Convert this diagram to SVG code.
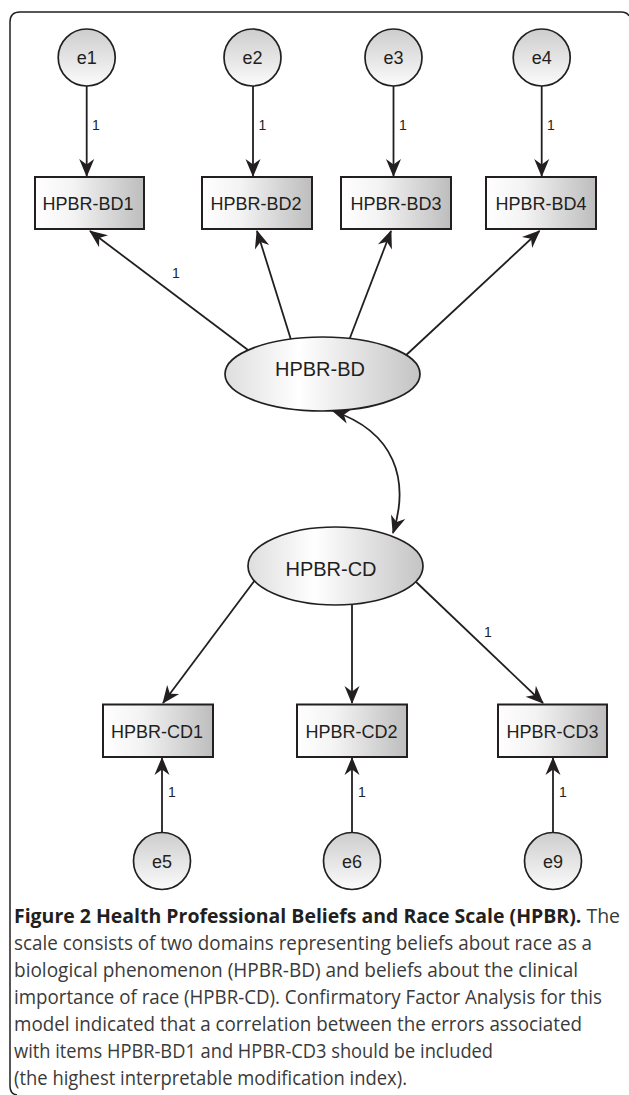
<svg xmlns="http://www.w3.org/2000/svg" width="629" height="1095" viewBox="0 0 629 1095">
<style>
.frame{fill:none;stroke:#231f20;stroke-width:1.5}
.box{fill:url(#gBox);stroke:#231f20;stroke-width:2}
.err{fill:url(#gCirc);stroke:#231f20;stroke-width:1.7}
.lat{fill:url(#gEll);stroke:#231f20;stroke-width:1.7}
.c{fill:none;stroke:#231f20;stroke-width:1.8;marker-end:url(#ah)}
.lbl{font-family:"Liberation Sans",Arial,sans-serif;fill:#231f20;text-anchor:middle}
.bt{font-size:18px}
.et{font-size:18px}
.lt{font-size:20px}
.one{font-family:"Liberation Sans",Arial,sans-serif;font-size:14px;fill:#231f20}
.cap{font-family:"Open Sans","Liberation Sans",sans-serif;font-size:19.5px;fill:#3a3a3a}
.b{font-weight:bold;fill:#231f20}
</style>
<defs>
<linearGradient id="gBox" x1="0" y1="0" x2="1" y2="0">
<stop offset="0" stop-color="#ffffff"/>
<stop offset="0.35" stop-color="#f3f3f3"/>
<stop offset="1" stop-color="#bdbdbd"/>
</linearGradient>
<linearGradient id="gCirc" x1="0" y1="0" x2="0" y2="1">
<stop offset="0" stop-color="#cdcdcd"/>
<stop offset="1" stop-color="#fbfbfb"/>
</linearGradient>
<linearGradient id="gEll" x1="0" y1="0" x2="1" y2="0">
<stop offset="0" stop-color="#dedede"/>
<stop offset="0.38" stop-color="#ffffff"/>
<stop offset="1" stop-color="#c4c4c4"/>
</linearGradient>
<marker id="ah" markerUnits="userSpaceOnUse" viewBox="-19 -9 21 18" refX="0" refY="0" markerWidth="21" markerHeight="18" orient="auto-start-reverse">
<path d="M1,0 L-17,-7.5 L-11.5,0 L-17,7.5 Z" fill="#231f20"/>
</marker>
</defs>

<path class="frame" d="M17,1095 Q10,1094 10,1086 L10,22 Q10,12 20,12 L621,12 Q627,12 629,16"/>

<g id="connectors">
<line class="c" x1="86.7" y1="86" x2="86.7" y2="176"/>
<line class="c" x1="253" y1="86" x2="253" y2="176"/>
<line class="c" x1="393.5" y1="86" x2="393.5" y2="176"/>
<line class="c" x1="541.7" y1="86" x2="541.7" y2="176"/>
<line class="c" x1="252" y1="353" x2="90" y2="231"/>
<line class="c" x1="292" y1="343" x2="257" y2="231"/>
<line class="c" x1="348" y1="343" x2="391" y2="231"/>
<line class="c" x1="403" y1="358" x2="539.5" y2="231"/>
<path class="c" style="marker-start:url(#ah)" d="M333,411 C395,432 410,480 393,533"/>
<line class="c" x1="255" y1="580" x2="163" y2="703"/>
<line class="c" x1="352" y1="604" x2="352" y2="703"/>
<line class="c" x1="414" y1="580" x2="543" y2="703"/>
<line class="c" x1="162" y1="832" x2="162" y2="758"/>
<line class="c" x1="352" y1="832" x2="352" y2="758"/>
<line class="c" x1="553" y1="832" x2="553" y2="758"/>
<text class="one" x="92" y="130">1</text>
<text class="one" x="258.5" y="130">1</text>
<text class="one" x="399" y="130">1</text>
<text class="one" x="547" y="130">1</text>
<text class="one" x="172" y="278">1</text>
<text class="one" x="484" y="637">1</text>
<text class="one" x="168" y="797">1</text>
<text class="one" x="358" y="797">1</text>
<text class="one" x="559" y="797">1</text>
</g>

<g id="e1"><circle class="err" cx="86.7" cy="57.5" r="28.5"/><text class="lbl et" x="86.7" y="64">e1</text></g>
<g id="e2"><circle class="err" cx="252.5" cy="57.5" r="28.5"/><text class="lbl et" x="252.5" y="64">e2</text></g>
<g id="e3"><circle class="err" cx="393.5" cy="57.5" r="28.5"/><text class="lbl et" x="393.5" y="64">e3</text></g>
<g id="e4"><circle class="err" cx="541.7" cy="57.5" r="28.5"/><text class="lbl et" x="541.7" y="64">e4</text></g>

<g id="BD1"><rect class="box" x="35" y="177" width="109" height="52"/><text class="lbl bt" x="88" y="209.5">HPBR-BD1</text></g>
<g id="BD2"><rect class="box" x="202" y="177" width="110" height="52"/><text class="lbl bt" x="256" y="209.5">HPBR-BD2</text></g>
<g id="BD3"><rect class="box" x="341" y="177" width="110" height="52"/><text class="lbl bt" x="396" y="209.5">HPBR-BD3</text></g>
<g id="BD4"><rect class="box" x="486" y="177" width="110" height="52"/><text class="lbl bt" x="541" y="209.5">HPBR-BD4</text></g>

<g id="HPBR-BD"><ellipse class="lat" cx="322.5" cy="374" rx="97.5" ry="37"/><text class="lbl lt" x="320" y="376">HPBR-BD</text></g>
<g id="HPBR-CD"><ellipse class="lat" cx="335.5" cy="566" rx="87.5" ry="39"/><text class="lbl lt" x="331" y="576">HPBR-CD</text></g>

<g id="CD1"><rect class="box" x="103" y="704.5" width="110" height="52.5"/><text class="lbl bt" x="157" y="737.5">HPBR-CD1</text></g>
<g id="CD2"><rect class="box" x="297" y="704.5" width="110" height="52.5"/><text class="lbl bt" x="351.5" y="737.5">HPBR-CD2</text></g>
<g id="CD3"><rect class="box" x="498" y="704.5" width="109" height="52.5"/><text class="lbl bt" x="552.5" y="737.5">HPBR-CD3</text></g>

<g id="e5"><circle class="err" cx="162" cy="861" r="28.5"/><text class="lbl et" x="162" y="867.5">e5</text></g>
<g id="e6"><circle class="err" cx="352" cy="861" r="28.5"/><text class="lbl et" x="352" y="867.5">e6</text></g>
<g id="e9"><circle class="err" cx="553" cy="861" r="28.5"/><text class="lbl et" x="553" y="867.5">e9</text></g>

<g id="caption">
<text class="cap" x="14" y="923" textLength="606" lengthAdjust="spacingAndGlyphs"><tspan class="b">Figure 2 Health Professional Beliefs and Race Scale (HPBR).</tspan> The</text>
<text class="cap" x="14" y="950" textLength="578" lengthAdjust="spacingAndGlyphs">scale consists of two domains representing beliefs about race as a</text>
<text class="cap" x="14" y="977" textLength="564" lengthAdjust="spacingAndGlyphs">biological phenomenon (HPBR-BD) and beliefs about the clinical</text>
<text class="cap" x="14" y="1004" textLength="588" lengthAdjust="spacingAndGlyphs">importance of race (HPBR-CD). Confirmatory Factor Analysis for this</text>
<text class="cap" x="14" y="1031" textLength="568" lengthAdjust="spacingAndGlyphs">model indicated that a correlation between the errors associated</text>
<text class="cap" x="14" y="1058" textLength="479" lengthAdjust="spacingAndGlyphs">with items HPBR-BD1 and HPBR-CD3 should be included</text>
<text class="cap" x="14" y="1085" textLength="393" lengthAdjust="spacingAndGlyphs">(the highest interpretable modification index).</text>
</g>
</svg>
